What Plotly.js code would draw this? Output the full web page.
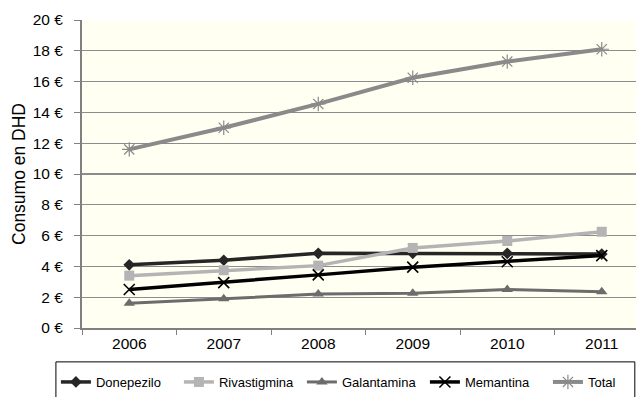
<!DOCTYPE html>
<html>
<head>
<meta charset="utf-8">
<script src="https://cdn.plot.ly/plotly-3.0.1.min.js"></script>
<style>
  html, body { margin: 0; padding: 0; overflow: hidden; background: #fff; }
  #chart { width: 690px; height: 405px; }
</style>
</head>
<body>
<div id="chart"></div>
<script>
// Years on the category axis
const years = ['2006', '2007', '2008', '2009', '2010', '2011'];

// Consumption (DHD) per active ingredient, in euros
const donepezilo   = [4.1, 4.4, 4.85, 4.85, 4.85, 4.8];
const rivastigmina = [3.4, 3.75, 4.05, 5.2, 5.65, 6.25];
const galantamina  = [1.6, 1.9, 2.2, 2.25, 2.5, 2.35];
const memantina    = [2.5, 2.95, 3.45, 3.95, 4.3, 4.7];
const total        = [11.6, 13.0, 14.55, 16.25, 17.3, 18.1];

const seriesNames = ['Donepezilo', 'Rivastigmina', 'Galantamina', 'Memantina', 'Total'];

const FONT = 'Liberation Sans, Arial, Helvetica, sans-serif';

function series(name, y, color, width, marker) {
  return {
    type: 'scatter', mode: 'lines+markers', name: name,
    x: years, y: y,
    line: { color: color, width: width },
    marker: marker
  };
}

const traces = [
  series(seriesNames[0], donepezilo, '#262626', 3.5,
    { symbol: 'diamond', size: 9, color: '#262626' }),
  series(seriesNames[1], rivastigmina, '#b4b4b4', 3.5,
    { symbol: 'square', size: 10, color: '#b4b4b4' }),
  series(seriesNames[2], galantamina, '#6c6c6c', 3,
    { symbol: 'triangle-up', size: 10, color: '#6c6c6c' }),
  series(seriesNames[3], memantina, '#000000', 3.5,
    { symbol: 'x-thin-open', size: 11, color: '#000000', line: { color: '#000000', width: 1.6 } }),
  series(seriesNames[4], total, '#8a8a8a', 4,
    { symbol: 'asterisk-open', size: 12, color: '#8a8a8a', line: { color: '#8a8a8a', width: 1.2 } })
];

// Plot area runs from x=82 to x=649; the page window shows up to x=636
const layout = {
  width: 690, height: 405,
  margin: { l: 82, r: 41, t: 20, b: 77, autoexpand: false },
  paper_bgcolor: '#ffffff',
  plot_bgcolor: '#fffff2',
  font: { family: FONT, size: 15, color: '#000' },
  showlegend: true,
  legend: {
    orientation: 'h',
    x: -0.046, xanchor: 'left',
    y: -0.1266, yanchor: 'top',
    entrywidthmode: 'pixels',
    entrywidth: 78,
    font: { family: FONT, size: 13, color: '#000' },
    bgcolor: 'rgba(0,0,0,0)',
    borderwidth: 0
  },
  xaxis: {
    type: 'category',
    range: [-0.5, 5.5],
    tickson: 'boundaries',
    ticks: 'outside', ticklen: 5, tickwidth: 1, tickcolor: '#808080',
    showline: true, linecolor: '#808080', linewidth: 2,
    showgrid: false, zeroline: false,
    tickfont: { family: FONT, size: 15.5 }
  },
  yaxis: {
    range: [0, 20], dtick: 2,
    ticksuffix: ' €',
    ticks: 'outside', ticklen: 6, tickwidth: 1, tickcolor: '#808080',
    ticklabelstandoff: 8,
    showline: true, linecolor: '#808080', linewidth: 2,
    showgrid: true, gridcolor: '#8c8c8c', gridwidth: 1.3,
    zeroline: false,
    tickfont: { family: FONT, size: 15.5 },
    title: { text: 'Consumo en DHD', font: { family: FONT, size: 17.5 }, standoff: 3 }
  },
  shapes: [{
    type: 'rect', xref: 'paper', yref: 'paper',
    x0: -0.046, x1: 0.975, y0: -0.11, y1: -0.3,
    line: { color: '#000', width: 1 }, fillcolor: 'rgba(0,0,0,0)'
  }]
};

Plotly.newPlot('chart', traces, layout, { displayModeBar: false, staticPlot: true });
</script>
</body>
</html>
